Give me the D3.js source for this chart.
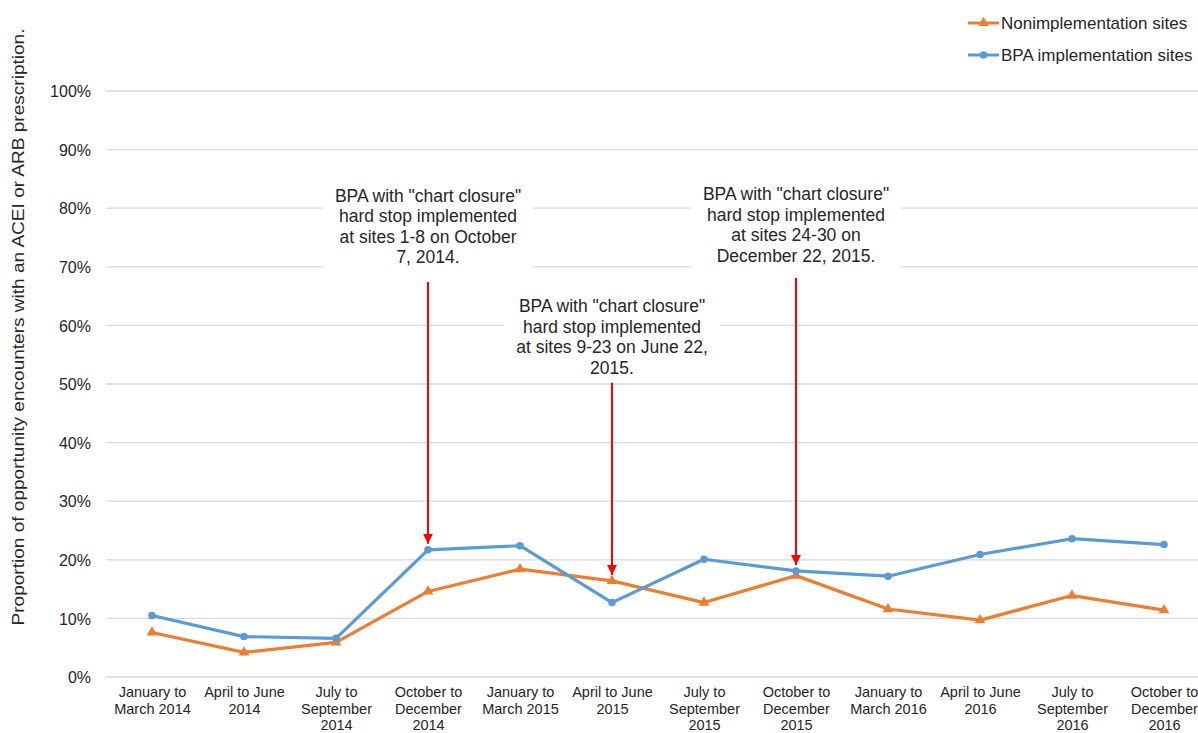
<!DOCTYPE html>
<html>
<head>
<meta charset="utf-8">
<script src="https://cdn.jsdelivr.net/npm/d3@7"></script>
<style>
  html, body { margin: 0; padding: 0; background: #fff; }
  svg { display: block; font-family: "Liberation Sans", Arial, sans-serif; }
</style>
</head>
<body>
<svg id="chart" width="1198" height="733"></svg>
<script>
// ---------- data ----------
const categories = [
  "January to\nMarch 2014", "April to June\n2014", "July to\nSeptember\n2014", "October to\nDecember\n2014",
  "January to\nMarch 2015", "April to June\n2015", "July to\nSeptember\n2015", "October to\nDecember\n2015",
  "January to\nMarch 2016", "April to June\n2016", "July to\nSeptember\n2016", "October to\nDecember\n2016"
];
const bpaValues = [10.5, 6.9, 6.6, 21.7, 22.4, 12.7, 20.1, 18.1, 17.2, 20.9, 23.6, 22.6];
const nonValues = [7.6, 4.2, 5.9, 14.6, 18.4, 16.4, 12.7, 17.3, 11.6, 9.7, 13.9, 11.4];
const yTicks = [0, 10, 20, 30, 40, 50, 60, 70, 80, 90, 100];
const seriesNames = ["Nonimplementation sites", "BPA implementation sites"];
const yTitle = "Proportion of opportunity encounters with an ACEI or ARB prescription.";
// annotations: category index, target series, arrow start value (%), text top value (%)
const annotationText = [
  ["BPA with \"chart closure\"", "hard stop implemented", "at sites 1-8 on October", "7, 2014."],
  ["BPA with \"chart closure\"", "hard stop implemented", "at sites 9-23 on June 22,", "2015."],
  ["BPA with \"chart closure\"", "hard stop implemented", "at sites 24-30 on", "December 22, 2015."]
];
const annotationCategory = [3, 5, 7];
const annotationTarget = ["bpa", "non", "bpa"];
const annotationArrowTop = [67.4, 50.2, 68.1];
const annotationTextTop = [83.8, 65.0, 84.1];

// ---------- layout ----------
const svg = d3.select("#chart");
const colBlue = "#5B9BD5", colOrange = "#ED7D31", colGrid = "#D9D9D9", colText = "#262626";

const x = d3.scalePoint().domain(d3.range(categories.length)).range([106, 1210]).padding(0.5);
const y = d3.scaleLinear().domain([0, 100]).range([677, 91]);

// gridlines
const grid = svg.append("g");
grid.selectAll("line").data(yTicks).join("line")
  .attr("x1", 106).attr("x2", 1210)
  .attr("y1", d => y(d)).attr("y2", d => y(d))
  .attr("stroke", colGrid).attr("stroke-width", 1.3);

// y axis tick labels
const yAxis = d3.axisLeft(y).tickValues(yTicks).tickFormat(d => d + "%").tickSize(0).tickPadding(0);
const yg = svg.append("g").attr("transform", "translate(91,0)").call(yAxis);
yg.select(".domain").remove();
yg.selectAll("text").attr("font-size", 16).attr("fill", colText)
  .attr("font-family", "Liberation Sans, Arial, sans-serif").attr("dy", "0.35em");

// x axis labels
const xAxis = d3.axisBottom(x).tickFormat(() => "").tickSize(0);
const xg = svg.append("g").attr("transform", "translate(0,677)").call(xAxis);
xg.select(".domain").remove();
xg.selectAll(".tick text").each(function(i) {
  const t = d3.select(this).attr("y", 0).attr("dy", null)
    .attr("font-size", 14.5).attr("fill", colText)
    .attr("font-family", "Liberation Sans, Arial, sans-serif");
  categories[i].split("\n").forEach((ln, k) => {
    t.append("tspan").attr("x", 0).attr("y", 20 + k * 16.5).text(ln);
  });
});

// y title
svg.append("text")
  .attr("transform", "translate(24,327) rotate(-90)")
  .attr("text-anchor", "middle")
  .attr("font-size", 16.5).attr("fill", colText)
  .attr("textLength", 597).attr("lengthAdjust", "spacingAndGlyphs")
  .text(yTitle);

// annotation boxes & text
annotationText.forEach((lines, i) => {
  const cx = x(annotationCategory[i]);
  const top = y(annotationTextTop[i]);
  const g = svg.append("g");
  const t = g.append("text").attr("text-anchor", "middle")
    .attr("font-size", 17.5).attr("fill", colText);
  lines.forEach((ln, k) => {
    t.append("tspan").attr("x", cx).attr("y", top + 16 + k * 20.5).text(ln);
  });
  const bb = t.node().getBBox();
  g.insert("rect", "text")
    .attr("x", bb.x - 12).attr("y", bb.y - 6)
    .attr("width", bb.width + 24).attr("height", bb.height + 10)
    .attr("fill", "#fff");
});

// arrows
const defs = svg.append("defs");
defs.append("marker").attr("id", "arrow").attr("viewBox", "0 0 10 10")
  .attr("refX", 10).attr("refY", 5).attr("markerWidth", 5).attr("markerHeight", 5)
  .attr("markerUnits", "strokeWidth").attr("orient", "auto")
  .append("path").attr("d", "M0,0 L10,5 L0,10 z").attr("fill", "#FF0000");

annotationCategory.forEach((ci, i) => {
  const val = annotationTarget[i] === "bpa" ? bpaValues[ci] : nonValues[ci];
  svg.append("line")
    .attr("x1", x(ci)).attr("x2", x(ci))
    .attr("y1", y(annotationArrowTop[i])).attr("y2", y(val) - 6)
    .attr("stroke", "#FF0000").attr("stroke-width", 2)
    .attr("marker-end", "url(#arrow)");
});

// lines
const lineGen = d3.line().x((d, i) => x(i)).y(d => y(d));
svg.append("path").datum(nonValues).attr("d", lineGen)
  .attr("fill", "none").attr("stroke", colOrange).attr("stroke-width", 3.2).attr("stroke-linejoin", "round");
svg.append("path").datum(bpaValues).attr("d", lineGen)
  .attr("fill", "none").attr("stroke", colBlue).attr("stroke-width", 3.2).attr("stroke-linejoin", "round");

const tri = d3.symbol().type(d3.symbolTriangle).size(50);
svg.append("g").selectAll("path").data(nonValues).join("path")
  .attr("d", tri).attr("transform", (d, i) => `translate(${x(i)},${y(d)})`).attr("fill", colOrange);
svg.append("g").selectAll("circle").data(bpaValues).join("circle")
  .attr("cx", (d, i) => x(i)).attr("cy", d => y(d)).attr("r", 3.8).attr("fill", colBlue);

// legend
const legend = svg.append("g");
[[colOrange, "tri"], [colBlue, "circ"]].forEach(([c, m], i) => {
  const ly = 23 + i * 32;
  legend.append("line").attr("x1", 968).attr("x2", 999).attr("y1", ly).attr("y2", ly)
    .attr("stroke", c).attr("stroke-width", 3);
  if (m === "tri") {
    legend.append("path").attr("d", tri).attr("transform", `translate(983.5,${ly})`).attr("fill", c);
  } else {
    legend.append("circle").attr("cx", 983.5).attr("cy", ly).attr("r", 3.8).attr("fill", c);
  }
  legend.append("text").attr("x", 1001).attr("y", ly + 6)
    .attr("font-size", 17).attr("fill", colText).text(seriesNames[i]);
});
</script>
</body>
</html>
